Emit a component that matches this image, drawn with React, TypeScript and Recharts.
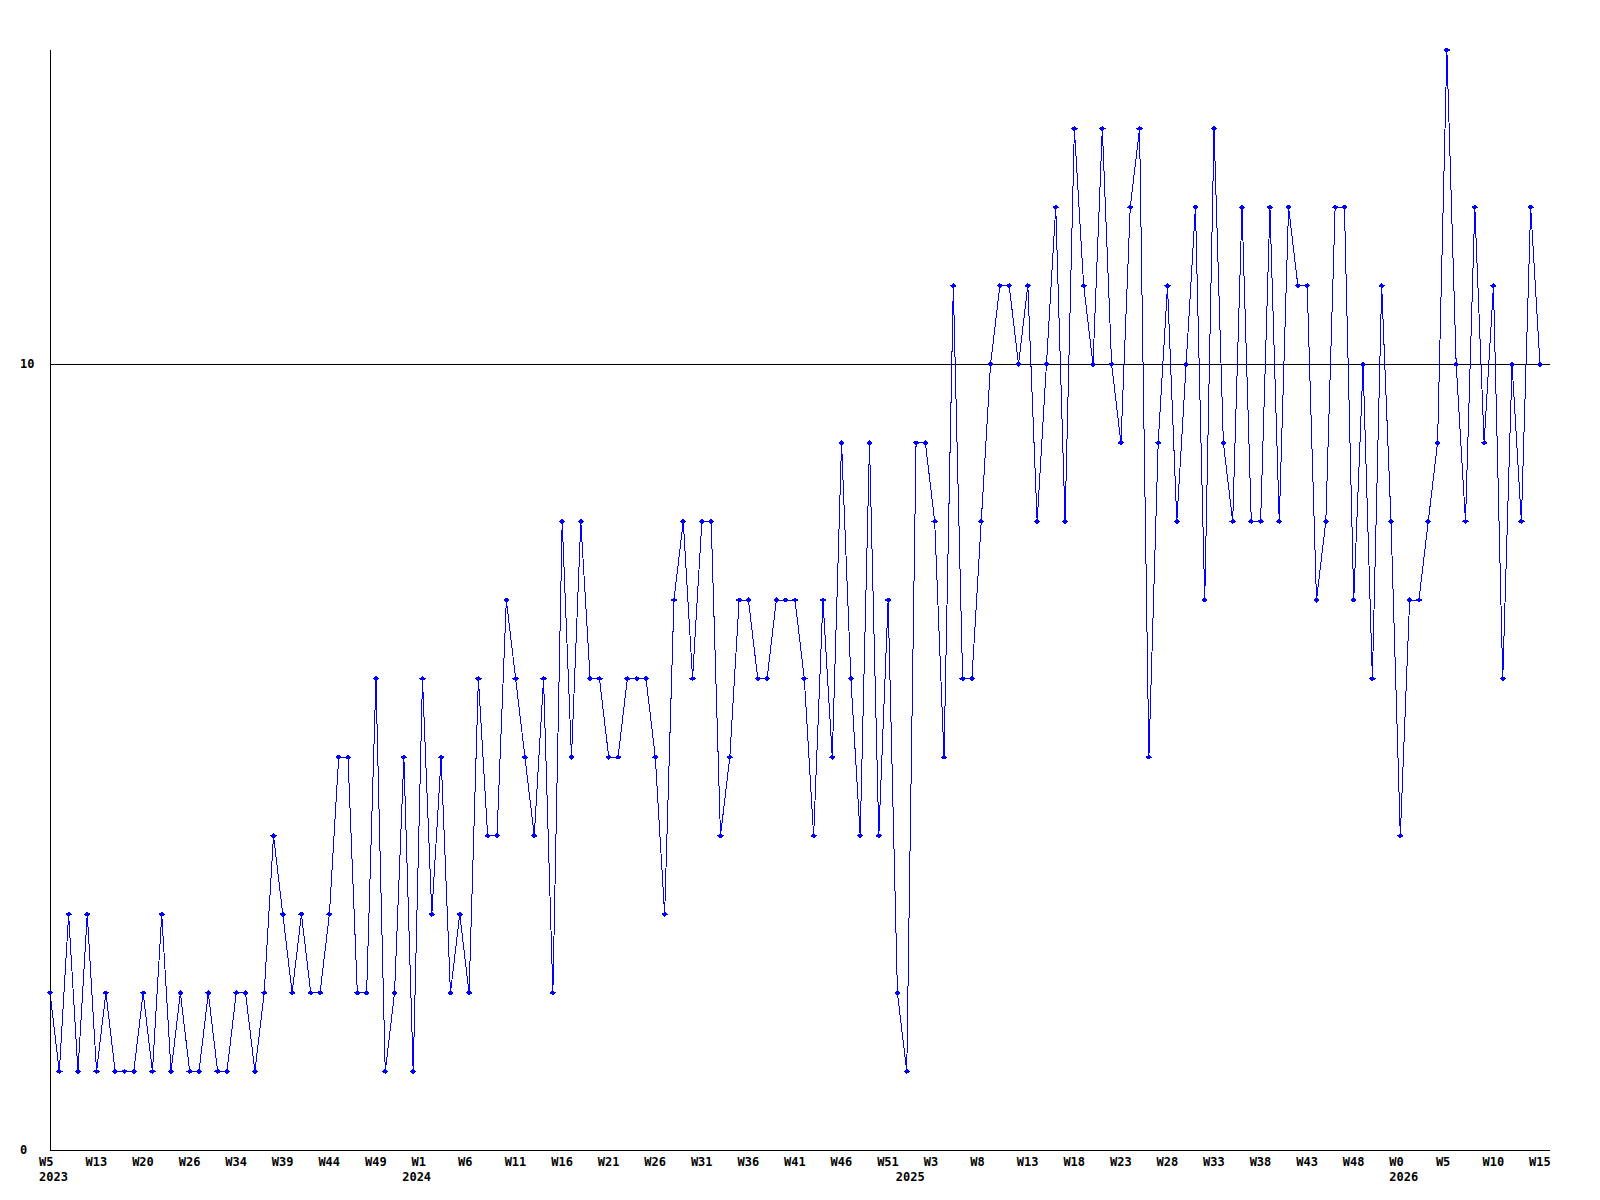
import { LineChart, Line, XAxis, YAxis, ReferenceLine } from 'recharts'

// week numbers per year (Sunday-based numbering, as in the source)
const WEEKS_2023 = [5, 7, 8, 10, 11, 13, 14, 16, 17, 18, 20, 21, 22, 23, 25, 26, 28, 29, 31, 32, 34, 35, 36, 37, 38, 39, 40, 41, 42, 43, 44, 45, 46, 47, 48, 49, 50, 51, 52]
const WEEKS_2024 = [0, 1, 2, 3, 4, 5, 6, 7, 8, 9, 10, 11, 12, 13, 14, 15, 16, 17, 18, 19, 20, 21, 22, 23, 24, 25, 26, 27, 28, 29, 30, 31, 32, 33, 34, 35, 36, 37, 38, 39, 40, 41, 42, 43, 44, 45, 46, 47, 48, 49, 50, 51, 52]
const WEEKS_2025 = [0, 1, 2, 3, 4, 5, 6, 7, 8, 9, 10, 11, 12, 13, 14, 15, 16, 17, 18, 19, 20, 21, 22, 23, 24, 25, 26, 27, 28, 29, 30, 31, 32, 33, 34, 35, 36, 37, 38, 39, 40, 41, 42, 43, 44, 45, 46, 47, 48, 49, 50, 51, 52]
const WEEKS_2026 = [0, 1, 2, 3, 4, 5, 6, 7, 8, 9, 10, 11, 12, 13, 14, 15]

const VALUES = [
  2, 1, 3, 1, 3, 1, 2, 1, 1, 1,
  2, 1, 3, 1, 2, 1, 1, 2, 1, 1,
  2, 2, 1, 2, 4, 3, 2, 3, 2, 2,
  3, 5, 5, 2, 2, 6, 1, 2, 5, 1,
  6, 3, 5, 2, 3, 2, 6, 4, 4, 7,
  6, 5, 4, 6, 2, 8, 5, 8, 6, 6,
  5, 5, 6, 6, 6, 5, 3, 7, 8, 6,
  8, 8, 4, 5, 7, 7, 6, 6, 7, 7,
  7, 6, 4, 7, 5, 9, 6, 4, 9, 4,
  7, 2, 1, 9, 9, 8, 5, 11, 6, 6,
  8, 10, 11, 11, 10, 11, 8, 10, 12, 8,
  13, 11, 10, 13, 10, 9, 12, 13, 5, 9,
  11, 8, 10, 12, 7, 13, 9, 8, 12, 8,
  8, 12, 8, 12, 11, 11, 7, 8, 12, 12,
  7, 10, 6, 11, 8, 4, 7, 7, 8, 9,
  14, 10, 8, 12, 9, 11, 6, 10, 8, 12, 10,
]

const Y_TICKS = [0, 10]

const YEAR_WEEKS: [number, number[]][] = [
  [2023, WEEKS_2023],
  [2024, WEEKS_2024],
  [2025, WEEKS_2025],
  [2026, WEEKS_2026],
]

const CATEGORIES = YEAR_WEEKS.flatMap(([year, weeks]) => weeks.map(w => `${year}-W${w}`))

const data = CATEGORIES.map((key, i) => ({ key, value: VALUES[i] }))

const FONT = {
  fontFamily: '"DejaVu Sans Mono", monospace',
  fontWeight: 'bold' as const,
  fontSize: 12,
  fill: '#000',
}

// week label every 5th point, year under the first point of each year
function WeekTick(props: any) {
  const { x, y, payload } = props
  const i = CATEGORIES.indexOf(payload.value)
  const [year, week] = String(payload.value).split('-')
  const showWeek = i % 5 === 0
  const showYear = i === 0 || (i > 0 && CATEGORIES[i - 1].split('-')[0] !== year)
  return (
    <g>
      {showWeek && <text x={x - 11} y={y + 16} {...FONT}>{week}</text>}
      {showYear && <text x={x - 11} y={y + 31} {...FONT}>{year}</text>}
    </g>
  )
}

function ValueTick(props: any) {
  const { x, y, payload } = props
  return (
    <text x={x - 30} y={y + 4} {...FONT}>
      {payload.value}
    </text>
  )
}

const renderDot = (p: any) => (
  <path
    key={`dot-${p.index}`}
    d={`M${p.cx - 2.5},${p.cy}L${p.cx},${p.cy - 2}L${p.cx + 2.5},${p.cy}L${p.cx},${p.cy + 2}Z`}
    stroke="#0000ff"
    strokeWidth={1}
    fill="#0000ff"
  />
)

export default function App() {
  return (
    <div style={{ width: 1584, height: 1184 }}>
      <LineChart
        width={1584}
        height={1184}
        data={data}
        margin={{ top: 42, right: 42, bottom: 0, left: 0 }}
        style={{ shapeRendering: 'crispEdges' }}
      >
        <XAxis
          dataKey="key"
          scale="point"
          padding={{ left: 0, right: 10 }}
          interval={0}
          height={42}
          tickLine={false}
          tickSize={0}
          tickMargin={0}
          axisLine={{ stroke: '#000', strokeWidth: 1 }}
          tick={<WeekTick />}
        />
        <YAxis
          type="number"
          domain={[0, 14]}
          ticks={Y_TICKS}
          width={42}
          tickLine={false}
          tickSize={0}
          tickMargin={0}
          axisLine={{ stroke: '#000', strokeWidth: 1 }}
          tick={<ValueTick />}
        />
        <ReferenceLine y={10} stroke="#000" strokeWidth={1} />
        <Line
          type="linear"
          dataKey="value"
          stroke="#0000ff"
          strokeWidth={1}
          dot={renderDot}
          activeDot={false}
          isAnimationActive={false}
        />
      </LineChart>
    </div>
  )
}
